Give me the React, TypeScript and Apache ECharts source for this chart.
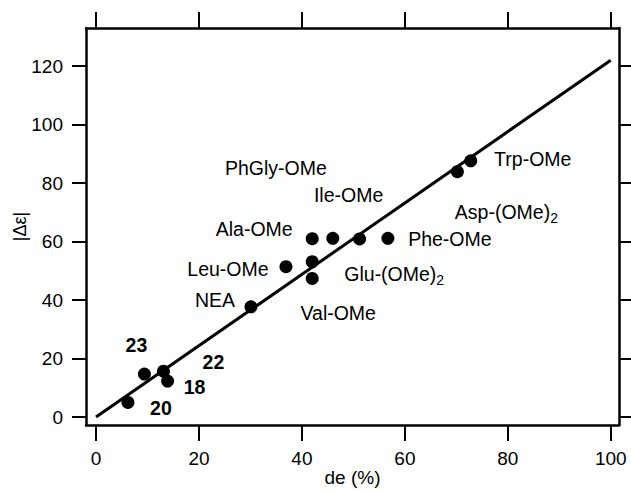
import React, { useEffect, useRef } from "react";
import * as echarts from "echarts";

// Data
const compoundNames = [
  "20", "23", "22", "18", "NEA", "Leu-OMe", "Ala-OMe", "PhGly-OMe",
  "Ile-OMe", "Phe-OMe", "Glu-(OMe)2", "Val-OMe", "Asp-(OMe)2", "Trp-OMe",
];
const deValues = [6.2, 9.4, 13.1, 13.9, 30.1, 36.9, 42.0, 46.0, 51.2, 56.7, 42.0, 42.0, 70.2, 72.8];
const deltaEpsValues = [5.0, 14.7, 15.7, 12.3, 37.7, 51.4, 61.0, 61.1, 60.9, 61.1, 53.1, 47.4, 83.9, 87.6];
const boldLabels = ["20", "23", "22", "18"];

const fitX = [0, 100];
const fitY = [0, 122];

const xTicks = [0, 20, 40, 60, 80, 100];
const yTicks = [0, 20, 40, 60, 80, 100, 120];

// Label placement (offset of label centre from the point, in px)
const labelOffsets: [number, number][] = [
  [33, 6], [-8, -29], [50, -9], [27, 6], [-36, -7], [-58, 2], [-58, -10],
  [-57, -70], [-11, -44], [62, 1], [82, 12], [26, 35], [49, 40], [62, -2],
];

const FONT = "'Liberation Sans', Arial, Helvetica, sans-serif";

function fmtName(n: string) {
  const m = n.match(/^(.*)\)2$/);
  if (m) return "{n|" + m[1] + ")}{sub|2}";
  return "{n|" + n + "}";
}

export default function App() {
  const ref = useRef<HTMLDivElement>(null);
  useEffect(() => {
    document.body.style.margin = "0";
    const chart = echarts.init(ref.current!, null, { renderer: "svg" });
    const scatterData = deValues.map((x, i) => {
      const bold = boldLabels.includes(compoundNames[i]);
      return {
        value: [x, deltaEpsValues[i]],
        name: compoundNames[i],
        label: {
          show: true,
          position: "inside",
          offset: labelOffsets[i],
          color: "#000",
          opacity: 1,
          formatter: fmtName(compoundNames[i]),
          rich: {
            n: {
              fontSize: 19.5,
              fontFamily: FONT,
              color: "#000",
              fontWeight: bold ? "bold" : "normal",
            },
            sub: {
              fontSize: 14,
              fontFamily: FONT,
              color: "#000",
              padding: [12, 0, 0, 0],
              verticalAlign: "top",
            },
          },
        },
      };
    });
    const commonX = {
      type: "value",
      min: -1.95,
      max: 101.6,
      splitLine: { show: false },
      axisLine: { show: true, onZero: false, lineStyle: { color: "#000", width: 2.5 } },
    };
    const commonY = {
      type: "value",
      min: -2.7,
      max: 133,
      splitLine: { show: false },
      axisLine: { show: true, onZero: false, lineStyle: { color: "#000", width: 2.5 } },
    };
    chart.setOption({
      animation: false,
      grid: { left: 86, right: 12, top: 28, bottom: 66, containLabel: false, outerBoundsMode: "none" },
      xAxis: [
        {
          ...commonX,
          position: "bottom",
          name: "de (%)",
          nameLocation: "middle",
          nameGap: 43,
          nameMoveOverlap: false,
          nameTextStyle: { fontSize: 19, fontFamily: FONT, color: "#000" },
          axisTick: { show: true, inside: false, length: 16, customValues: xTicks, lineStyle: { color: "#000", width: 2 } },
          axisLabel: { show: true, customValues: xTicks, margin: 24, fontSize: 19, fontFamily: FONT, color: "#000" },
        },
        {
          ...commonX,
          position: "top",
          axisTick: { show: true, inside: false, length: 16, customValues: xTicks, lineStyle: { color: "#000", width: 2 } },
          axisLabel: { show: false },
        },
      ],
      yAxis: [
        {
          ...commonY,
          position: "left",
          name: "|Δε|",
          nameLocation: "middle",
          nameGap: 57,
          nameMoveOverlap: false,
          nameRotate: 90,
          nameTextStyle: { fontSize: 18, fontFamily: FONT, color: "#000" },
          axisTick: { show: true, inside: false, length: 14, customValues: yTicks, lineStyle: { color: "#000", width: 2 } },
          axisLabel: { show: true, customValues: yTicks, margin: 23, fontSize: 19, fontFamily: FONT, color: "#000" },
        },
        {
          ...commonY,
          position: "right",
          axisTick: { show: true, inside: false, length: 14, customValues: yTicks, lineStyle: { color: "#000", width: 2 } },
          axisLabel: { show: false },
        },
      ],
      series: [
        {
          type: "line",
          data: fitX.map((x, i) => [x, fitY[i]]),
          symbol: "none",
          lineStyle: { color: "#000", width: 3 },
          silent: true,
          z: 2,
        },
        {
          type: "scatter",
          data: scatterData,
          symbol: "circle",
          symbolSize: 13,
          itemStyle: { color: "#000", opacity: 1 },
          z: 3,
        },
      ],
    });
    return () => chart.dispose();
  }, []);
  return <div ref={ref} style={{ width: 631, height: 491 }} />;
}
